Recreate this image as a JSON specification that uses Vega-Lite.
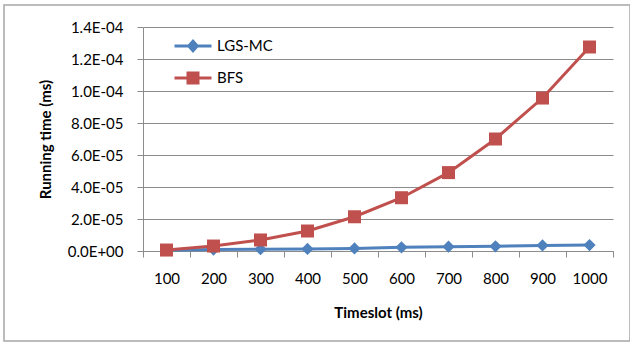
{
  "$schema": "https://vega.github.io/schema/vega-lite/v6.json",
  "width": 626,
  "height": 336,
  "autosize": {"type": "none"},
  "padding": {"left": 4, "top": 5, "right": 0, "bottom": 2},
  "background": "#ffffff",
  "config": {
    "font": "Lato",
    "view": {"stroke": "#a6a6a6", "strokeWidth": 1.5},
    "axis": {"labelFont": "Lato", "titleFont": "Lato", "labelColor": "#000000", "titleColor": "#000000"}
  },
  "data": {
    "values": [
      {"t": 100, "series": "LGS-MC", "v": 0.0000005},
      {"t": 200, "series": "LGS-MC", "v": 0.0000009},
      {"t": 300, "series": "LGS-MC", "v": 0.0000011},
      {"t": 400, "series": "LGS-MC", "v": 0.0000013},
      {"t": 500, "series": "LGS-MC", "v": 0.0000016},
      {"t": 600, "series": "LGS-MC", "v": 0.0000023},
      {"t": 700, "series": "LGS-MC", "v": 0.0000027},
      {"t": 800, "series": "LGS-MC", "v": 0.0000029},
      {"t": 900, "series": "LGS-MC", "v": 0.0000035},
      {"t": 1000, "series": "LGS-MC", "v": 0.0000037},
      {"t": 100, "series": "BFS", "v": 0.0000006},
      {"t": 200, "series": "BFS", "v": 0.0000031},
      {"t": 300, "series": "BFS", "v": 0.0000069},
      {"t": 400, "series": "BFS", "v": 0.0000125},
      {"t": 500, "series": "BFS", "v": 0.0000214},
      {"t": 600, "series": "BFS", "v": 0.0000333},
      {"t": 700, "series": "BFS", "v": 0.000049},
      {"t": 800, "series": "BFS", "v": 0.00007},
      {"t": 900, "series": "BFS", "v": 0.0000956},
      {"t": 1000, "series": "BFS", "v": 0.0001275}
    ]
  },
  "encoding": {
    "x": {
      "field": "t",
      "type": "ordinal",
      "bandPosition": 0.5,
      "scale": {"type": "band", "range": [139, 609], "paddingInner": 0, "paddingOuter": 0},
      "axis": {
        "title": "Timeslot (ms)",
        "offset": -90,
        "labelAngle": 0,
        "tickBand": "extent",
        "grid": false,
        "domainColor": "#8c8c8c",
        "tickColor": "#8c8c8c",
        "tickSize": 6,
        "labelPadding": 14,
        "labelFontSize": 15,
        "titleFontSize": 15,
        "titleFontWeight": "bold",
        "titlePadding": 19
      }
    },
    "y": {
      "field": "v",
      "type": "quantitative",
      "scale": {"domain": [0, 0.00014], "range": [246, 22], "nice": false},
      "axis": {
        "title": "Running time (ms)",
        "offset": -139,
        "values": [0, 0.00002, 0.00004, 0.00006, 0.00008, 0.0001, 0.00012, 0.00014],
        "labelExpr": "replace(replace(format(datum.value,'.1e'),'e-','E-0'),'e+','E+0')",
        "grid": true,
        "gridColor": "#8c8c8c",
        "gridWidth": 1,
        "domainColor": "#8c8c8c",
        "tickColor": "#8c8c8c",
        "tickSize": 6,
        "labelPadding": 14,
        "labelFontSize": 15,
        "titleFontSize": 15,
        "titleFontWeight": "bold",
        "titlePadding": 14
      }
    },
    "color": {
      "field": "series",
      "type": "nominal",
      "scale": {"domain": ["LGS-MC", "BFS"], "range": ["#4F81BD", "#C0504D"]},
      "legend": {
        "orient": "none",
        "legendX": 169,
        "legendY": 21,
        "title": null,
        "padding": 0,
        "symbolSize": 1369,
        "symbolStrokeWidth": 3,
        "labelFontSize": 15,
        "labelFont": "Lato",
        "labelColor": "#000000",
        "labelOffset": 4,
        "rowPadding": 1,
        "encoding": {
          "symbols": {
            "shape": {"condition": {"test": "datum.value === 'BFS'", "value": "M-1,0H1M-0.27,-0.27H0.27V0.27H-0.27Z"}, "value": "M-1,0H1M0,-0.26L0.23,0L0,0.26L-0.23,0Z"},
            "stroke": {"condition": {"test": "datum.value === 'BFS'", "value": "#C0504D"}, "value": "#4F81BD"},
            "fill": {"condition": {"test": "datum.value === 'BFS'", "value": "#C0504D"}, "value": "#4F81BD"},
            "size": {"value": 1369},
            "strokeWidth": {"value": 3},
            "opacity": {"value": 1}
          }
        }
      }
    }
  },
  "layer": [
    {"mark": {"type": "line", "strokeWidth": 3}},
    {
      "mark": {"type": "point", "filled": true, "opacity": 1},
      "encoding": {
        "shape": {"condition": {"test": "datum.series === 'BFS'", "value": "square"}, "value": "diamond"},
        "size": {"condition": {"test": "datum.series === 'BFS'", "value": 169}, "value": 150}
      }
    }
  ]
}
